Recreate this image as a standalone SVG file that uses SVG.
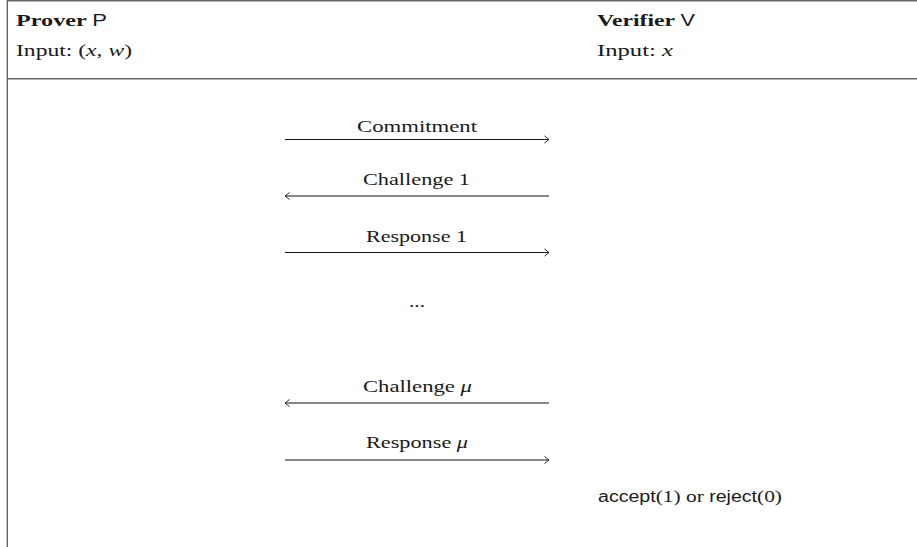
<svg xmlns="http://www.w3.org/2000/svg" width="917" height="547" viewBox="0 0 917 547">
  <style>
    .frame { stroke: #666; stroke-width: 1.4; fill: none; }
    .msg { stroke: #111; stroke-width: 1; fill: none; marker-end: url(#to); }
    .t { font-family: "Liberation Serif", "DejaVu Serif", serif; font-size: 17.5px; fill: #1a1a1a; }
    .b { font-weight: bold; }
    .s { font-family: "Liberation Sans", "DejaVu Sans", sans-serif; font-weight: normal; font-size: 16px; }
    .m { font-style: italic; }
  </style>
  <defs>
    <marker id="to" markerUnits="userSpaceOnUse" markerWidth="12" markerHeight="12" viewBox="-6 -6 12 12" refX="0" refY="0" orient="auto">
      <path d="M-4.5,-3.6 Q-1.2,-0.9 0,0 Q-1.2,0.9 -4.5,3.6" stroke="#111" stroke-width="0.9" fill="none"/>
    </marker>
  </defs>
  <rect width="917" height="547" fill="#fff"/>
  <g id="frame">
    <line class="frame" x1="7" y1="0.7" x2="917" y2="0.7"/>
    <line class="frame" x1="7.3" y1="0" x2="7.3" y2="547"/>
    <line class="frame" x1="7" y1="78.7" x2="917" y2="78.7"/>
  </g>
  <g id="prover">
    <text class="t b" x="16" y="26" textLength="91" lengthAdjust="spacingAndGlyphs">Prover <tspan class="s">P</tspan></text>
    <text class="t" x="16" y="56" textLength="116" lengthAdjust="spacingAndGlyphs">Input: (<tspan class="m">x</tspan>, <tspan class="m">w</tspan>)</text>
  </g>
  <g id="verifier">
    <text class="t b" x="597" y="26" textLength="98" lengthAdjust="spacingAndGlyphs">Verifier <tspan class="s">V</tspan></text>
    <text class="t" x="597" y="56" textLength="76" lengthAdjust="spacingAndGlyphs">Input: <tspan class="m">x</tspan></text>
    <text class="t" x="598" y="502" textLength="184" lengthAdjust="spacingAndGlyphs"><tspan class="s">accept</tspan>(1) or <tspan class="s">reject</tspan>(0)</text>
  </g>
  <g id="connectors">
    <line class="msg" x1="285" y1="139.5" x2="549" y2="139.5"/>
    <line class="msg" x1="549" y1="196" x2="285" y2="196"/>
    <line class="msg" x1="285" y1="252.5" x2="549" y2="252.5"/>
    <line class="msg" x1="549" y1="403" x2="285" y2="403"/>
    <line class="msg" x1="285" y1="460" x2="549" y2="460"/>
  </g>
  <g id="labels">
    <text class="t" x="357" y="132" textLength="120" lengthAdjust="spacingAndGlyphs">Commitment</text>
    <text class="t" x="363" y="185" textLength="107" lengthAdjust="spacingAndGlyphs">Challenge 1</text>
    <text class="t" x="366" y="242" textLength="101" lengthAdjust="spacingAndGlyphs">Response 1</text>
    <text class="t" x="409" y="307" textLength="16" lengthAdjust="spacingAndGlyphs">...</text>
    <text class="t" x="363" y="392" textLength="109" lengthAdjust="spacingAndGlyphs">Challenge <tspan class="m">μ</tspan></text>
    <text class="t" x="366" y="448" textLength="102" lengthAdjust="spacingAndGlyphs">Response <tspan class="m">μ</tspan></text>
  </g>
</svg>
